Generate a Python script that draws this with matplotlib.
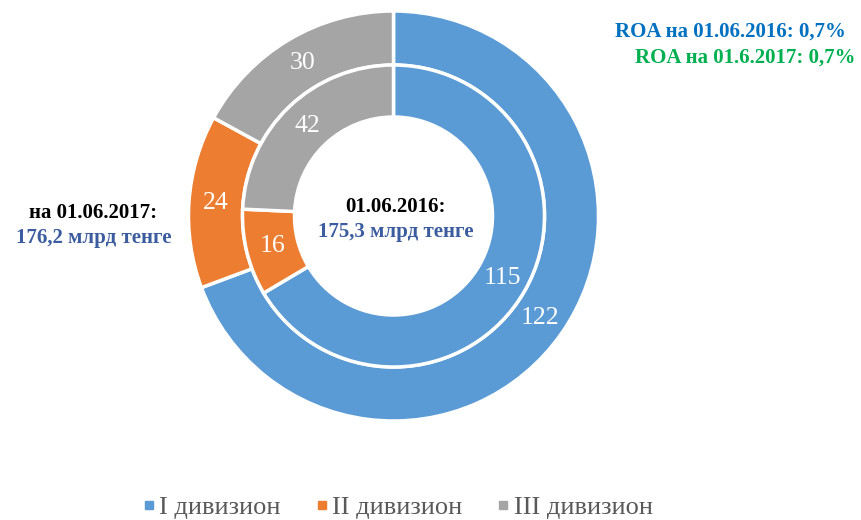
import matplotlib.pyplot as plt
from matplotlib.lines import Line2D
import numpy as np

plt.rcParams['font.family'] = ['Liberation Serif', 'DejaVu Serif']

categories = ["I дивизион", "II дивизион", "III дивизион"]
values_2017 = [122, 24, 30]   # outer ring
values_2016 = [115, 16, 42]   # inner ring
colors = ["#5B9BD5", "#ED7D31", "#A5A5A5"]

W, H = 862, 520
cx, cy, R = 393.5, 216, 205  # pie centre and radius in pixels (from top)

fig = plt.figure(figsize=(W / 100, H / 100), dpi=100)
ax = fig.add_axes([(cx - R) / W, (H - cy - R) / H, 2 * R / W, 2 * R / H])

r_out, w_out = 1.0, 54 / 205
r_in, w_in = 151 / 205, 52 / 205

wedges_out, _ = ax.pie(values_2017, radius=r_out, colors=colors, startangle=90,
                       counterclock=False,
                       wedgeprops=dict(width=w_out, edgecolor="white", linewidth=2.5))
wedges_in, _ = ax.pie(values_2016, radius=r_in, colors=colors, startangle=90,
                      counterclock=False,
                      wedgeprops=dict(width=w_in, edgecolor="white", linewidth=2.5))
ax.set_xlim(-1, 1)
ax.set_ylim(-1, 1)
ax.axis("off")


def label_ring(wedges, vals, r_mid):
    for w, v in zip(wedges, vals):
        ang = np.deg2rad((w.theta1 + w.theta2) / 2)
        ax.text(r_mid * np.cos(ang), r_mid * np.sin(ang), str(v), ha="center",
                va="center", color="white", fontsize=18.5)


label_ring(wedges_out, values_2017, r_out - w_out / 2)
label_ring(wedges_in, values_2016, r_in - w_in / 2)


def fig_text(x, y, s, **kw):
    fig.text(x / W, 1 - y / H, s, **kw)


# centre
fig_text(396, 207, "01.06.2016:", ha="center", va="center", fontsize=15,
         fontweight="bold", color="black")
fig_text(396, 232, "175,3 млрд тенге", ha="center", va="center", fontsize=15,
         fontweight="bold", color="#3B5C9E")
# left
fig_text(93, 213, "на 01.06.2017:", ha="center", va="center", fontsize=15,
         fontweight="bold", color="black")
fig_text(94, 238, "176,2 млрд тенге", ha="center", va="center", fontsize=15,
         fontweight="bold", color="#3B5C9E")
# ROA
fig_text(846, 32, "ROA на 01.06.2016: 0,7%", ha="right", va="center", fontsize=15,
         fontweight="bold", color="#0070C0")
fig_text(856, 58, "ROA на 01.6.2017: 0,7%", ha="right", va="center", fontsize=15,
         fontweight="bold", color="#00B050")

handles = [Line2D([], [], marker="s", linestyle="none", markersize=6,
                  markerfacecolor=c, markeredgecolor=c) for c in colors]
fig.legend(handles, categories, loc="center", bbox_to_anchor=(398.5 / W, 1 - 507.5 / H),
           ncol=3, frameon=False, fontsize=19, labelcolor="#595959",
           handlelength=0.35, handletextpad=0.22, columnspacing=1.38,
           borderpad=0.2)

fig.savefig("out.png", dpi=100)
